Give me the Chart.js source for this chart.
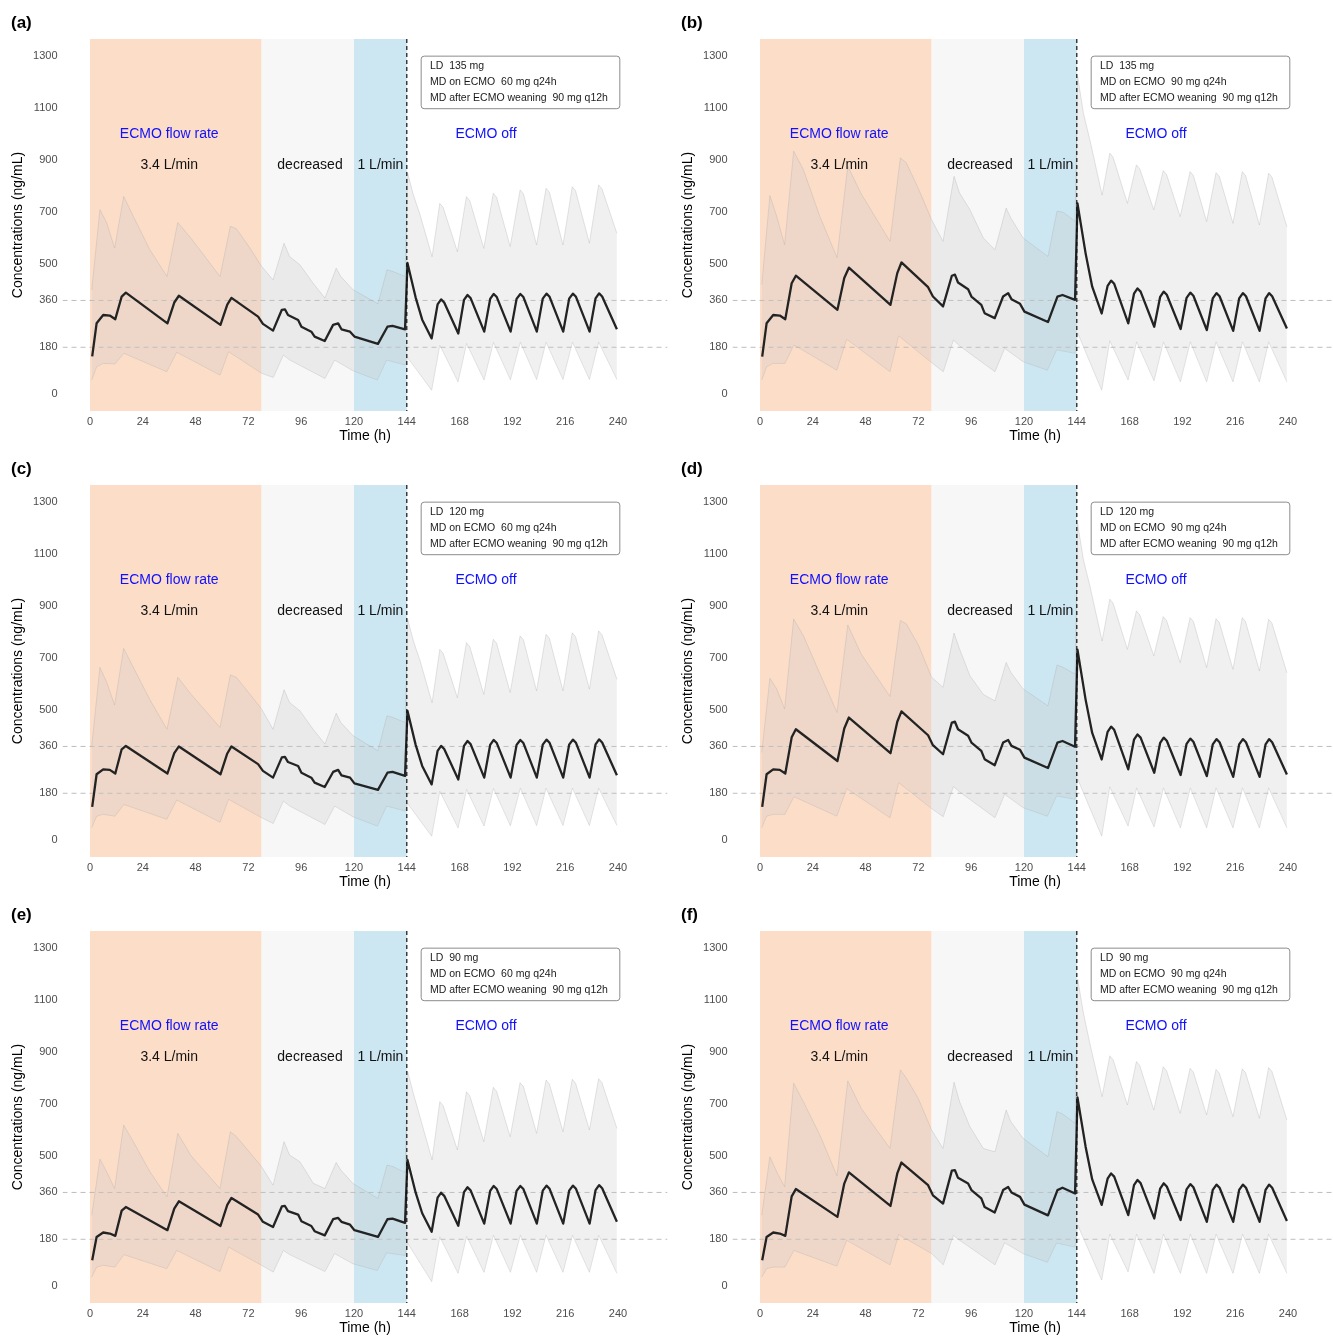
<!DOCTYPE html>
<html>
<head>
<meta charset="utf-8">
<script src="https://cdn.jsdelivr.net/npm/chart.js@4.4.1/dist/chart.umd.min.js"></script>
<style>
  body { margin: 0; background: #fff; width: 1333px; height: 1337px; overflow: hidden; position: relative; }
  .panel { position: absolute; width: 670px; height: 446px; }
</style>
</head>
<body>
<script>
// axis ticks / reference levels
const xTicks = [0, 24, 48, 72, 96, 120, 144, 168, 192, 216, 240];
const yTicks = [0, 180, 360, 500, 700, 900, 1100, 1300];
const refLevels = [180, 360];

// ECMO phases (h)
const bandStart = [0, 78, 120];
const bandEnd = [78, 120, 144];
const bandColor = ['rgb(252,221,200)', 'rgb(247,247,247)', 'rgb(204,231,242)'];
const weanTime = 144;

// annotations
const noteText = ['ECMO flow rate', '3.4 L/min', 'decreased', '1 L/min', 'ECMO off'];
const noteT = [36, 36, 100, 132, 180];
const noteV = [1000, 880, 880, 880, 1000];
const noteColor = ['#1010ff', '#111', '#111', '#111', '#1010ff'];

// dosing legend per panel
const panelLabel = ['(a)', '(b)', '(c)', '(d)', '(e)', '(f)'];
const ldDose = ['135 mg', '135 mg', '120 mg', '120 mg', '90 mg', '90 mg'];
const mdOnEcmo = ['60 mg q24h', '90 mg q24h', '60 mg q24h', '90 mg q24h', '60 mg q24h', '90 mg q24h'];
const mdAfterEcmo = '90 mg q12h';

// median concentration (ng/mL)
const tMed = [1, 3, 6, 9, 11.5, 14.4, 16.3, 35.2, 38.3, 40.4, 59.3, 62.4, 64.3, 76.4, 78.6, 83.2, 87.2,
  88.6, 90, 94.6, 96.1, 100.6, 102.1, 106.7, 110.5, 112.8, 114.3, 118.2, 120.2, 130.9, 135.2, 137.5, 143.2,
  144.3, 148, 151, 155.3, 158, 159.6, 161, 167.4, 170, 171.6, 173, 179.2, 181.9, 183.5, 184.9,
  191.2, 193.9, 195.6, 197, 203.1, 205.8, 207.5, 208.9, 215.1, 217.8, 219.5, 220.9,
  227.1, 229.8, 231.4, 232.8, 239.5];
const medA = [145, 272, 304, 302, 288, 375, 390, 272, 352, 378, 266, 344, 370, 298, 270, 244, 324,
  326, 304, 285, 259, 240, 221, 204, 266, 272, 249, 240, 221, 193, 259, 262, 249,
  504, 372, 286, 214, 345, 364, 352, 233, 362, 381, 369, 240, 366, 385, 373,
  240, 366, 385, 373, 240, 367, 386, 374, 240, 367, 386, 374,
  240, 368, 387, 375, 249];
const medB = [144, 272, 304, 302, 288, 426, 455, 324, 446, 486, 343, 465, 506, 411, 375, 337, 455,
  459, 429, 403, 375, 343, 311, 292, 375, 388, 365, 347, 317, 277, 375, 381, 362,
  733, 541, 413, 310, 416, 436, 424, 272, 386, 406, 394, 259, 374, 394, 382,
  250, 370, 390, 378, 246, 368, 388, 376, 243, 368, 388, 376,
  243, 368, 388, 376, 252];
const medC = [128, 253, 272, 270, 256, 349, 362, 256, 334, 360, 253, 333, 360, 292, 266, 240, 318,
  320, 300, 285, 259, 240, 221, 204, 262, 270, 249, 240, 218, 193, 259, 262, 247,
  497, 367, 285, 214, 343, 362, 350, 233, 362, 381, 369, 240, 366, 385, 373,
  240, 366, 385, 373, 240, 367, 386, 374, 240, 367, 386, 374,
  240, 368, 387, 375, 249];
const medD = [128, 253, 272, 270, 256, 395, 426, 304, 429, 471, 334, 455, 495, 403, 365, 330, 452,
  455, 426, 401, 375, 343, 311, 288, 375, 385, 362, 347, 317, 277, 375, 381, 359,
  732, 540, 412, 310, 416, 436, 424, 272, 386, 406, 394, 259, 374, 394, 382,
  250, 370, 390, 378, 246, 368, 388, 376, 243, 368, 388, 376,
  243, 368, 388, 376, 252];
const medE = [99, 189, 206, 202, 193, 290, 304, 215, 298, 326, 231, 312, 339, 275, 247, 227, 306,
  308, 288, 275, 249, 231, 211, 195, 257, 262, 247, 236, 215, 189, 257, 259, 243,
  485, 360, 280, 209, 340, 359, 347, 232, 361, 380, 368, 240, 366, 385, 373,
  240, 366, 385, 373, 240, 367, 386, 374, 240, 367, 386, 374,
  240, 369, 388, 376, 247];
const medF = [99, 189, 206, 202, 193, 345, 373, 266, 394, 437, 308, 433, 475, 388, 349, 317, 444,
  446, 416, 394, 369, 337, 304, 283, 369, 381, 360, 343, 313, 272, 369, 378, 356,
  725, 536, 410, 312, 413, 433, 421, 273, 388, 408, 396, 260, 375, 395, 383,
  254, 372, 392, 380, 247, 370, 390, 378, 247, 370, 390, 378,
  247, 370, 390, 378, 250];

// upper bound of prediction band
const tUp = [0.8, 4.5, 7.6, 11.2, 15.3, 19.7, 27.2, 35, 39.9, 46, 59.1, 63.8, 66.5, 72, 78,
  83.2, 88.2, 90.7, 95.4, 101.5, 106.8, 111.9, 114, 119.6, 130.9, 135, 137.8, 143.2,
  144.4, 147, 150, 155.5, 159, 160.5, 167, 171.1, 172.6, 179, 183.3, 184.8, 191, 195.5, 197,
  203, 207.3, 208.8, 215, 219.2, 220.7, 227, 231.2, 232.7, 239.5];
const upA = [400, 709, 658, 561, 760, 683, 555, 452, 660, 598, 452, 645, 636, 570, 491,
  439, 580, 529, 497, 425, 369, 484, 452, 401, 347, 478, 471, 452,
  849, 765, 690, 528, 733, 718, 547, 759, 744, 560, 772, 757, 567, 785, 770,
  573, 791, 776, 573, 797, 782, 580, 804, 789, 618];
const upB = [420, 763, 683, 574, 934, 863, 683, 525, 876, 770, 587, 908, 889, 790, 670,
  587, 837, 773, 709, 600, 555, 715, 677, 600, 529, 703, 699, 664,
  1220, 1080, 975, 765, 926, 910, 733, 881, 866, 708, 859, 844, 682, 855, 840,
  663, 851, 836, 656, 855, 840, 650, 849, 834, 643];
const upC = [362, 664, 606, 519, 737, 664, 540, 426, 626, 560, 433, 635, 626, 568, 504,
  426, 578, 529, 497, 425, 369, 488, 452, 401, 343, 478, 471, 452,
  849, 765, 690, 528, 733, 718, 547, 759, 744, 560, 772, 757, 567, 785, 770,
  573, 791, 776, 573, 797, 782, 580, 804, 789, 618];
const upD = [337, 622, 581, 504, 850, 786, 640, 491, 827, 715, 552, 844, 831, 750, 626,
  587, 796, 735, 632, 560, 535, 683, 645, 581, 516, 673, 664, 638,
  1215, 1078, 975, 765, 926, 910, 733, 881, 866, 708, 859, 844, 682, 855, 840,
  663, 851, 836, 656, 855, 840, 650, 849, 834, 643];
const upE = [272, 488, 439, 375, 619, 555, 440, 343, 587, 500, 375, 593, 575, 520, 459,
  388, 555, 504, 478, 395, 375, 475, 446, 394, 337, 465, 459, 437,
  825, 740, 650, 485, 709, 694, 523, 747, 732, 555, 764, 749, 574, 782, 767,
  587, 792, 777, 593, 795, 780, 600, 797, 782, 606];
const upF = [272, 497, 439, 382, 780, 709, 581, 424, 789, 683, 529, 831, 800, 720, 600,
  529, 784, 709, 613, 529, 516, 677, 632, 568, 497, 671, 660, 626,
  1180, 1050, 930, 728, 885, 870, 696, 863, 848, 677, 843, 828, 664, 837, 822,
  658, 833, 818, 651, 835, 820, 645, 840, 825, 638];

// lower bound of prediction band
const tLo = [0.8, 3, 6, 11.3, 15.4, 34.9, 39.4, 59.1, 63, 78, 83.3, 87.9, 90.8, 106.8, 111.2,
  119.5, 130.6, 134.8, 143.2, 144.4, 155.3, 159, 167.3, 171.2, 179.1, 183.4, 191.1, 195.6, 203,
  207.3, 215, 219.3, 227, 231.2, 239.5];
const loA = [54, 105, 118, 116, 157, 86, 161, 73, 163, 80, 64, 150, 131, 60, 131,
  90, 54, 131, 112, 140, 15, 188, 47, 195, 54, 199, 55, 200, 56, 200, 56, 200, 56, 200, 56];
const loB = [54, 105, 118, 118, 189, 92, 211, 86, 224, 121, 86, 208, 185, 86, 176,
  125, 92, 170, 157, 235, 15, 205, 54, 201, 51, 201, 47, 201, 47, 201, 47, 201, 47, 201, 47];
const loC = [48, 92, 99, 92, 137, 80, 154, 69, 157, 86, 64, 150, 131, 60, 131,
  90, 54, 131, 112, 140, 15, 188, 47, 195, 54, 199, 55, 200, 56, 200, 56, 200, 56, 200, 56];
const loD = [48, 92, 99, 99, 167, 92, 198, 86, 221, 121, 90, 206, 185, 86, 176,
  125, 92, 170, 157, 235, 15, 205, 54, 201, 51, 201, 47, 201, 47, 201, 47, 201, 47, 201, 47];
const loE = [35, 73, 80, 73, 121, 67, 137, 56, 150, 80, 54, 137, 121, 56, 125,
  86, 60, 128, 118, 165, 17, 190, 49, 192, 53, 196, 53, 196, 53, 196, 53, 196, 53, 196, 49];
const loF = [35, 67, 73, 73, 137, 77, 176, 82, 198, 125, 82, 195, 176, 82, 167,
  125, 92, 166, 150, 235, 23, 200, 55, 200, 49, 200, 49, 200, 49, 200, 49, 200, 49, 200, 49];

const medians = [medA, medB, medC, medD, medE, medF];
const uppers = [upA, upB, upC, upD, upE, upF];
const lowers = [loA, loB, loC, loD, loE, loF];

const FONT = '"Liberation Sans", Arial, Helvetica, sans-serif';
Chart.defaults.font.family = FONT;

const pts = (ts, vs) => ts.map((t, i) => ({x: t, y: vs[i]}));

const decor = {
  id: 'decor',
  beforeDatasetsDraw(chart) {
    const {ctx, chartArea: a, scales: {x}} = chart;
    ctx.save();
    bandStart.forEach((s, i) => {
      const x0 = x.getPixelForValue(s), x1 = x.getPixelForValue(bandEnd[i]);
      ctx.fillStyle = bandColor[i];
      ctx.fillRect(x0, a.top, x1 - x0, a.bottom - a.top);
    });
    ctx.restore();
  },
  afterDatasetsDraw(chart, args, opts) {
    const {ctx, chartArea: a, scales: {x, y}} = chart;
    ctx.save();
    // weaning line
    const xw = x.getPixelForValue(weanTime);
    ctx.strokeStyle = '#111';
    ctx.lineWidth = 1.2;
    ctx.setLineDash([4, 3]);
    ctx.beginPath();
    ctx.moveTo(xw, a.top);
    ctx.lineTo(xw, a.bottom);
    ctx.stroke();
    ctx.setLineDash([]);

    // phase annotations
    ctx.font = '14px ' + FONT;
    ctx.textAlign = 'center';
    ctx.textBaseline = 'middle';
    noteText.forEach((t, i) => {
      ctx.fillStyle = noteColor[i];
      ctx.fillText(t, x.getPixelForValue(noteT[i]), y.getPixelForValue(noteV[i]));
    });

    // dosing box
    const bx0 = x.getPixelForValue(150.3), bx1 = x.getPixelForValue(240.6);
    const by0 = y.getPixelForValue(1301), by1 = y.getPixelForValue(1099);
    ctx.fillStyle = '#fff';
    ctx.strokeStyle = '#8c8c8c';
    ctx.lineWidth = 1;
    ctx.beginPath();
    ctx.roundRect(bx0 + 0.5, by0 + 0.5, bx1 - bx0, by1 - by0, 3);
    ctx.fill();
    ctx.stroke();
    ctx.font = '10.5px ' + FONT;
    ctx.textAlign = 'left';
    ctx.fillStyle = '#1a1a1a';
    const lines = ['LD  ' + opts.ld, 'MD on ECMO  ' + opts.md, 'MD after ECMO weaning  ' + mdAfterEcmo];
    const lineV = [1259, 1199, 1138];
    lines.forEach((t, i) => ctx.fillText(t, x.getPixelForValue(154.5), y.getPixelForValue(lineV[i])));

    // panel tag
    ctx.font = 'bold 17px ' + FONT;
    ctx.fillStyle = '#000';
    ctx.fillText(opts.label, 11, 23);
    ctx.restore();
  }
};

panelLabel.forEach((label, i) => {
  const div = document.createElement('div');
  div.className = 'panel';
  div.style.left = (i % 2) * 670 + 'px';
  div.style.top = Math.floor(i / 2) * 446 + 'px';
  const canvas = document.createElement('canvas');
  canvas.width = 670;
  canvas.height = 446;
  div.appendChild(canvas);
  document.body.appendChild(div);

  const refSets = refLevels.map(v => ({
    data: [{x: -12.5, y: v}, {x: 262.5, y: v}],
    borderColor: '#bdbdbd',
    borderWidth: 1,
    borderDash: [5, 4],
    pointRadius: 0,
    fill: false
  }));

  new Chart(canvas, {
    type: 'line',
    data: {
      datasets: [{
        data: pts(tMed, medians[i]),
        borderColor: '#232323',
        borderWidth: 2.3,
        borderJoinStyle: 'round',
        pointRadius: 0,
        fill: false,
        tension: 0
      }, {
        data: pts(tUp, uppers[i]),
        borderColor: 'rgba(170,170,170,0.45)',
        borderWidth: 0.7,
        backgroundColor: 'rgba(200,200,200,0.28)',
        pointRadius: 0,
        fill: '+1',
        tension: 0
      }, {
        data: pts(tLo, lowers[i]),
        borderColor: 'rgba(170,170,170,0.45)',
        borderWidth: 0.7,
        pointRadius: 0,
        fill: false,
        tension: 0
      }, ...refSets]
    },
    options: {
      responsive: false,
      animation: false,
      devicePixelRatio: 1,
      layout: {padding: {top: 39, right: 2.5, left: 0, bottom: 0}},
      plugins: {
        legend: {display: false},
        tooltip: {enabled: false},
        decor: {label: label, ld: ldDose[i], md: mdOnEcmo[i]}
      },
      scales: {
        x: {
          type: 'linear',
          min: -12.5,
          max: 262.5,
          grid: {display: false, drawTicks: false},
          border: {display: false},
          afterBuildTicks: s => { s.ticks = xTicks.map(v => ({value: v})); },
          afterFit: s => { s.height = 35; },
          ticks: {color: '#4d4d4d', font: {size: 11}, padding: 4, autoSkip: false, maxRotation: 0,
            callback: v => String(v)},
          title: {display: true, text: 'Time (h)', color: '#000', font: {size: 14}, padding: {top: 0, bottom: 1}}
        },
        y: {
          min: -65,
          max: 1365,
          grid: {display: false, drawTicks: false},
          border: {display: false},
          afterBuildTicks: s => { s.ticks = yTicks.map(v => ({value: v})); },
          afterFit: s => { s.width = 62.5; },
          ticks: {color: '#4d4d4d', font: {size: 11}, padding: 5, callback: v => String(v)},
          title: {display: true, text: 'Concentrations (ng/mL)', color: '#000', font: {size: 14}, padding: {top: 10, bottom: 0}}
        }
      }
    },
    plugins: [decor]
  });
});
</script>
</body>
</html>
